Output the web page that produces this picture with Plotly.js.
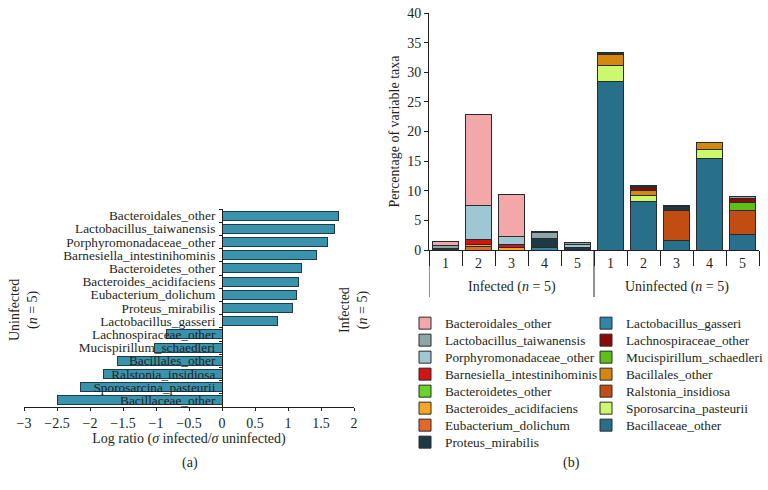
<!DOCTYPE html>
<html><head><meta charset="utf-8">
<script src="https://cdn.plot.ly/plotly-3.0.1.min.js"></script>
<style>html,body{margin:0;padding:0;background:#fff;overflow:hidden}#c{width:768px;height:490px}</style>
</head><body><div id="c"></div>
<script>
// ---- Panel (a): log ratios ----
const taxaA = ['Bacteroidales_other','Lactobacillus_taiwanensis','Porphyromonadaceae_other','Barnesiella_intestinihominis','Bacteroidetes_other','Bacteroides_acidifaciens','Eubacterium_dolichum','Proteus_mirabilis','Lactobacillus_gasseri','Lachnospiraceae_other','Mucispirillum_schaedleri','Bacillales_other','Ralstonia_insidiosa','Sporosarcina_pasteurii','Bacillaceae_other'];
const logRatio = [1.77,1.71,1.60,1.43,1.21,1.16,1.13,1.07,0.84,-0.84,-1.03,-1.58,-1.80,-2.14,-2.50];
const xTicksA = [-3,-2.5,-2,-1.5,-1,-0.5,0,0.5,1,1.5,2];

// ---- Panel (b): stacked percentages ----
const samples = ['1','2','3','4','5','1','2','3','4','5'];
const groupNames = ['Infected (<i>n</i> = 5)','Uninfected (<i>n</i> = 5)'];
const groupOf = [0,0,0,0,0,1,1,1,1,1];
const yTicksB = [0,5,10,15,20,25,30,35,40];

// series listed bottom -> top of stack
const Bacillaceae_other            = [0,0,0,0,0, 28.5,8.2,1.6,15.5,2.6];
const Sporosarcina_pasteurii       = [0,0,0,0,0, 2.6,1.0,0,1.4,0];
const Ralstonia_insidiosa          = [0,0,0,0,0, 0,0,5.0,0,4.1];
const Bacillales_other             = [0,0,0,0,0, 1.9,0.8,0,1.3,0];
const Mucispirillum_schaedleri     = [0,0,0,0,0, 0,0,0,0,1.4];
const Lachnospiraceae_other        = [0,0,0,0,0, 0,0.55,0,0,0.6];
const Lactobacillus_gasseri        = [0,0,0,0.4,0, 0,0,0,0,0];
const Proteus_mirabilis            = [0.3,0,0,1.5,0.45, 0.4,0.35,0.7,0,0];
const Eubacterium_dolichum         = [0,0.6,0,0,0, 0,0,0,0,0];
const Bacteroides_acidifaciens     = [0,0.3,0.4,0,0, 0,0,0,0,0];
const Bacteroidetes_other          = [0,0,0,0,0, 0,0,0,0,0];
const Barnesiella_intestinihominis = [0,0.95,0.6,0.1,0, 0,0,0,0,0];
const Porphyromonadaceae_other     = [0,5.7,1.2,0,0.5, 0,0,0,0,0];
const Lactobacillus_taiwanensis    = [0.4,0,0,0.9,0.25, 0,0,0.2,0,0.3];
const Bacteroidales_other          = [0.8,15.4,7.1,0.3,0, 0,0,0,0,0];

const stackNames = ['Bacillaceae_other','Sporosarcina_pasteurii','Ralstonia_insidiosa','Bacillales_other','Mucispirillum_schaedleri','Lachnospiraceae_other','Lactobacillus_gasseri','Proteus_mirabilis','Eubacterium_dolichum','Bacteroides_acidifaciens','Bacteroidetes_other','Barnesiella_intestinihominis','Porphyromonadaceae_other','Lactobacillus_taiwanensis','Bacteroidales_other'];
const stackValues = [Bacillaceae_other,Sporosarcina_pasteurii,Ralstonia_insidiosa,Bacillales_other,Mucispirillum_schaedleri,Lachnospiraceae_other,Lactobacillus_gasseri,Proteus_mirabilis,Eubacterium_dolichum,Bacteroides_acidifaciens,Bacteroidetes_other,Barnesiella_intestinihominis,Porphyromonadaceae_other,Lactobacillus_taiwanensis,Bacteroidales_other];
const stackColors = ['#276f8a','#ccf96c','#c24d12','#d4880f','#5fbf18','#8b0a0a','#2f86a8','#1d3a44','#e2692b','#f5a623','#6ad32a','#d01515','#9dc7d2','#8fa6a6','#f2a7a8'];
// legend layout: column (0 left, 1 right) and row, per stack series
const legendCol = [1,1,1,1,1,1,1,0,0,0,0,0,0,0,0];
const legendRow = [6,5,4,3,2,1,0,7,6,5,4,3,2,1,0];

const FONT = 'Liberation Serif, Times New Roman, serif';
const INK = '#231f20';
const W = 768, H = 490;
const px = v => v / W, py = v => 1 - v / H;

const xIdx = samples.map((s,i)=>i);

const traces = [{
  type:'bar', orientation:'h', x: logRatio, y: taxaA, xaxis:'x', yaxis:'y',
  width: 0.68, showlegend:false,
  marker:{color:'#3a93ad', line:{color:'#1c3c48', width:1}}
}];
const layout = {
  width: W, height: H, margin:{l:0,r:0,t:0,b:0},
  paper_bgcolor:'#fff', plot_bgcolor:'rgba(0,0,0,0)',
  barmode:'stack',
  font:{family:FONT, size:14, color:INK},
  xaxis:{domain:[px(24), px(354)], range:[-3,2], tickvals:xTicksA, ticktext:xTicksA.map(v=>String(v).replace('-','\u2212')),
    showline:true, linecolor:INK, linewidth:1, ticks:'outside', ticklen:3, tickcolor:INK,
    showgrid:false, zeroline:false, anchor:'y', tickfont:{size:14}, automargin:false,
    title:{text:'Log ratio (<i>σ</i> infected/<i>σ</i> uninfected)', font:{size:14}, standoff:3}},
  yaxis:{domain:[py(407), py(209)], type:'category', autorange:'reversed', anchor:'free', position: px(222),
    tickvals: taxaA, ticktext: taxaA, automargin:false, ticklabelstandoff:4,
    showline:true, linecolor:INK, linewidth:1, ticks:'outside', ticklen:3, tickson:'boundaries', tickcolor:INK,
    showgrid:false, zeroline:false, tickfont:{size:13.3}},
  xaxis2:{domain:[px(429), px(759)], range:[-0.5, xIdx.length-0.5], anchor:'y2', automargin:false,
    tickvals: xIdx, ticktext: samples, ticks:'', 
    minor:{tickvals: xIdx.map(i=>i-0.5).concat([xIdx.length-0.5]), ticks:'outside', ticklen:15, tickcolor:INK, showgrid:false},
    showline:true, linecolor:INK, linewidth:1, showgrid:false, zeroline:false, tickfont:{size:14}},
  yaxis2:{domain:[py(250), py(13)], range:[0,40], tickvals:yTicksB, anchor:'x2', automargin:false,
    showline:true, linecolor:INK, linewidth:1, ticks:'outside', ticklen:4, tickcolor:INK,
    showgrid:false, zeroline:false, tickfont:{size:14},
    title:{text:'Percentage of variable taxa', font:{size:14}, standoff:4}},
  shapes:[],
  annotations:[
    {xref:'paper', yref:'paper', x:px(24), y:py(310), xanchor:'center', yanchor:'middle', text:'Uninfected<br>(<i>n</i> = 5)', textangle:-90, showarrow:false, font:{size:14}, align:'center'},
    {xref:'paper', yref:'paper', x:px(354), y:py(310), xanchor:'center', yanchor:'middle', text:'Infected<br>(<i>n</i> = 5)', textangle:-90, showarrow:false, font:{size:14}, align:'center'},
    {xref:'paper', yref:'paper', x:px(190), y:py(463), xanchor:'center', yanchor:'middle', text:'(a)', showarrow:false, font:{size:14}},
    {xref:'paper', yref:'paper', x:px(571), y:py(463), xanchor:'center', yanchor:'middle', text:'(b)', showarrow:false, font:{size:14}}
  ]
};

// group labels and dividers of the two-level category axis
groupNames.forEach((g,gi)=>{
  const idx = xIdx.filter(i=>groupOf[i]===gi);
  const mid = (idx[0] + idx[idx.length-1]) / 2;
  layout.annotations.push({xref:'x2', yref:'paper', x:mid, y:py(287), xanchor:'center', yanchor:'middle',
    text:g, showarrow:false, font:{size:14}});
  layout.shapes.push({type:'line', xref:'x2', yref:'paper', x0:idx[0]-0.5, x1:idx[0]-0.5, y0:py(250), y1:py(297),
    line:{color:INK, width:1}});
});

stackNames.forEach((n,i)=>{
  const lid = i===0 ? 'legend' : 'legend' + (i+1);
  traces.push({
    type:'bar', name:n, x:xIdx, y: stackValues[i], xaxis:'x2', yaxis:'y2',
    width: 0.78, legend: lid,
    marker:{color: stackColors[i], line:{color:'#2a2a2a', width:1}}
  });
  layout[lid] = {
    x: px(legendCol[i] ? 586 : 405), y: py(318 + 17*legendRow[i] - 10),
    xanchor:'left', yanchor:'top', font:{size:13.3}, bgcolor:'rgba(0,0,0,0)', borderwidth:0,
    itemwidth:30, tracegroupgap:0};
});

Plotly.newPlot('c', traces, layout, {staticPlot:true, displayModeBar:false});
</script></body></html>
